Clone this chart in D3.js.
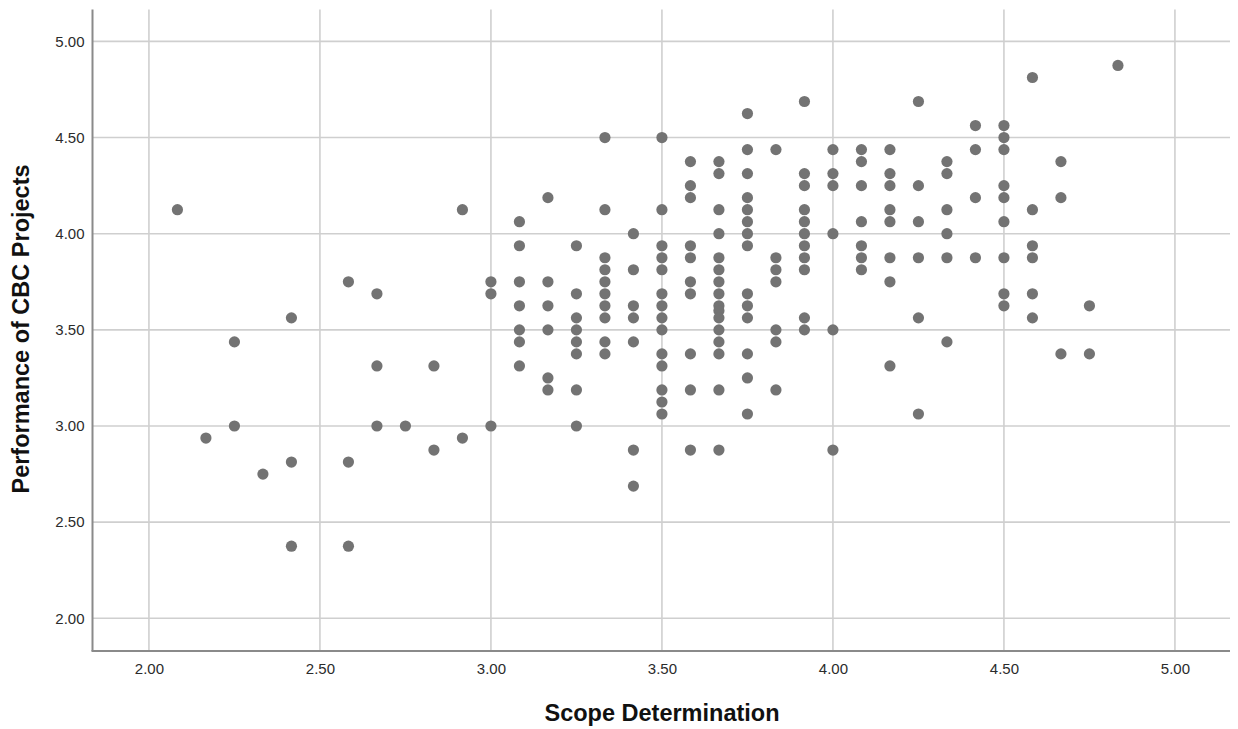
<!DOCTYPE html>
<html>
<head>
<meta charset="utf-8">
<script src="https://cdn.jsdelivr.net/npm/d3@7"></script>
<style>
  html, body { margin: 0; padding: 0; background: #fff; }
  svg { display: block; }
</style>
</head>
<body>
<svg id="chart" width="1238" height="729"></svg>
<script>
// ---- Data ----
const xTicks = [2.00, 2.50, 3.00, 3.50, 4.00, 4.50, 5.00];
const yTicks = [2.00, 2.50, 3.00, 3.50, 4.00, 4.50, 5.00];
const xTitle = "Scope Determination";
const yTitle = "Performance of CBC Projects";

// Scope Determination column values (x) and the Performance values (y) found in each column
const scopeValues = [
  25/12, 26/12, 27/12, 28/12, 29/12, 31/12, 32/12, 33/12, 34/12, 35/12,
  36/12, 37/12, 38/12, 39/12, 40/12, 41/12, 42/12, 43/12, 44/12, 45/12,
  46/12, 47/12, 48/12, 49/12, 50/12, 51/12, 52/12, 53/12, 54/12, 55/12,
  56/12, 57/12, 58/12
];
const performanceByScope = [
  [4.125],
  [2.9375],
  [3.4375, 3.0],
  [2.75],
  [3.5625, 2.8125, 2.375],
  [3.75, 2.8125, 2.375],
  [3.6875, 3.3125, 3.0],
  [3.0],
  [3.3125, 2.875],
  [4.125, 2.9375],
  [3.75, 3.6875, 3.0],
  [4.0625, 3.9375, 3.75, 3.625, 3.5, 3.4375, 3.3125],
  [4.1875, 3.75, 3.625, 3.5, 3.25, 3.1875],
  [3.9375, 3.6875, 3.5625, 3.5, 3.4375, 3.375, 3.1875, 3.0],
  [4.5, 4.125, 3.875, 3.8125, 3.75, 3.6875, 3.625, 3.5625, 3.4375, 3.375],
  [4.0, 3.8125, 3.625, 3.5625, 3.4375, 2.875, 2.6875],
  [4.5, 4.125, 3.9375, 3.875, 3.8125, 3.6875, 3.625, 3.5625, 3.5, 3.375, 3.3125, 3.1875, 3.125, 3.0625],
  [4.375, 4.25, 4.1875, 3.9375, 3.875, 3.75, 3.6875, 3.375, 3.1875, 2.875],
  [4.375, 4.3125, 4.125, 4.0, 3.875, 3.8125, 3.75, 3.6875, 3.625, 3.6, 3.5625, 3.5, 3.4375, 3.375, 3.1875, 2.875],
  [4.625, 4.4375, 4.3125, 4.1875, 4.125, 4.0625, 4.0, 3.9375, 3.6875, 3.625, 3.5625, 3.375, 3.25, 3.0625],
  [4.4375, 3.875, 3.8125, 3.75, 3.5, 3.4375, 3.1875],
  [4.6875, 4.3125, 4.25, 4.125, 4.0625, 4.0, 3.9375, 3.875, 3.8125, 3.5625, 3.5],
  [4.4375, 4.3125, 4.25, 4.0, 3.5, 2.875],
  [4.4375, 4.375, 4.25, 4.0625, 3.9375, 3.875, 3.8125],
  [4.4375, 4.3125, 4.25, 4.125, 4.0625, 3.875, 3.75, 3.3125],
  [4.6875, 4.25, 4.0625, 3.875, 3.5625, 3.0625],
  [4.375, 4.3125, 4.125, 4.0, 3.875, 3.4375],
  [4.5625, 4.4375, 4.1875, 3.875],
  [4.5625, 4.5, 4.4375, 4.25, 4.1875, 4.0625, 3.875, 3.6875, 3.625],
  [4.8125, 4.125, 3.9375, 3.875, 3.6875, 3.5625],
  [4.375, 4.1875, 3.375],
  [3.625, 3.375],
  [4.875]
];

// ---- Layout ----
const svg = d3.select("#chart");
const plot = { left: 92.5, right: 1230, top: 9.5, bottom: 651 };

const x = d3.scaleLinear().domain([1.835, 5.161]).range([plot.left, plot.right]);
const y = d3.scaleLinear().domain([1.83, 5.166]).range([plot.bottom, plot.top]);

const points = [];
scopeValues.forEach((sv, i) => {
  performanceByScope[i].forEach(pv => points.push({ x: sv, y: pv }));
});

// Gridlines
const grid = svg.append("g");
grid.selectAll("line.vg").data(xTicks).enter().append("line")
  .attr("x1", d => x(d)).attr("x2", d => x(d))
  .attr("y1", plot.top).attr("y2", plot.bottom)
  .attr("stroke", "#cfcfcf").attr("stroke-width", 1.6);
grid.selectAll("line.hg").data(yTicks).enter().append("line")
  .attr("y1", d => y(d)).attr("y2", d => y(d))
  .attr("x1", plot.left).attr("x2", plot.right)
  .attr("stroke", "#cfcfcf").attr("stroke-width", 1.6);

// Axes (tick labels via d3 axes, no tick marks)
const xAxis = d3.axisBottom(x).tickValues(xTicks).tickFormat(d3.format(".2f")).tickSize(0).tickPadding(12);
const yAxis = d3.axisLeft(y).tickValues(yTicks).tickFormat(d3.format(".2f")).tickSize(0).tickPadding(8);

const gx = svg.append("g").attr("transform", `translate(0,${plot.bottom})`).call(xAxis);
const gy = svg.append("g").attr("transform", `translate(${plot.left},0)`).call(yAxis);
[gx, gy].forEach(g => {
  g.select(".domain").remove();
  g.selectAll("text")
    .attr("font-family", "Arial, 'Liberation Sans', sans-serif")
    .attr("font-size", 15)
    .attr("fill", "#2b2b2b");
});

// Axis lines
svg.append("line").attr("x1", plot.left).attr("x2", plot.left)
  .attr("y1", plot.top).attr("y2", plot.bottom)
  .attr("stroke", "#8a8a8a").attr("stroke-width", 2);
svg.append("line").attr("x1", plot.left - 1).attr("x2", plot.right)
  .attr("y1", plot.bottom).attr("y2", plot.bottom)
  .attr("stroke", "#8a8a8a").attr("stroke-width", 2);

// Points
svg.append("g").selectAll("circle").data(points).enter().append("circle")
  .attr("cx", d => x(d.x)).attr("cy", d => y(d.y))
  .attr("r", 5.6)
  .attr("fill", "#737373");

// Titles
svg.append("text")
  .attr("x", 662).attr("y", 721)
  .attr("text-anchor", "middle")
  .attr("font-family", "Arial, 'Liberation Sans', sans-serif")
  .attr("font-weight", "bold").attr("font-size", 23.5)
  .attr("fill", "#111")
  .text(xTitle);
svg.append("text")
  .attr("transform", `translate(29,329) rotate(-90)`)
  .attr("text-anchor", "middle")
  .attr("font-family", "Arial, 'Liberation Sans', sans-serif")
  .attr("font-weight", "bold").attr("font-size", 23.5)
  .attr("fill", "#111")
  .text(yTitle);
</script>
</body>
</html>
